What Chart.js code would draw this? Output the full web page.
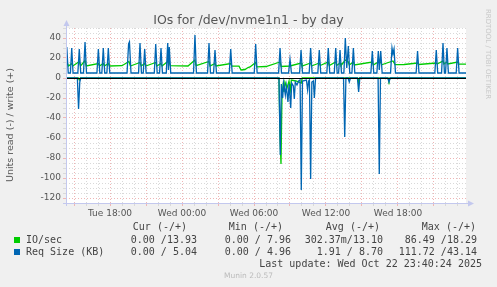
<!DOCTYPE html>
<html>
<head>
<meta charset="utf-8">
<title>IOs for /dev/nvme1n1 - by day</title>
<script src="https://cdn.jsdelivr.net/npm/chart.js@4.4.0/dist/chart.umd.min.js"></script>
<style>
    body { margin: 0; background: #f0f0f0; }
    #wrap { position: relative; width: 497px; height: 287px; overflow: hidden; font-family: "DejaVu Sans", sans-serif; color: #555; }
    canvas { position: absolute; left: 0; top: 0; }
    .t { position: absolute; white-space: pre; line-height: 12px; }
    .mono { font-family: "DejaVu Sans Mono", monospace; font-size: 10px; color: #444; }
</style>
</head>
<body>
<div id="wrap">
    <canvas id="chart" width="497" height="287"></canvas>

    <div class="t" style="left:0; width:497px; top:13px; text-align:center; font-size:12.5px; line-height:14px;">IOs for /dev/nvme1n1 - by day</div>
    <div class="t" style="left:-90px; width:200px; top:119px; text-align:center; font-size:9.5px; transform:rotate(-90deg);">Units read (-) / write (+)</div>
    <div class="t" style="left:438px; width:100px; top:48px; text-align:center; font-size:7px; color:#c8c8c8; transform:rotate(90deg);">RRDTOOL / TOBI OETIKER</div>

    <!-- legend table -->
    <div class="t mono" style="right:310px; top:221px;">Cur (-/+)</div>
    <div class="t mono" style="right:214px; top:221px;">Min (-/+)</div>
    <div class="t mono" style="right:117px; top:221px;">Avg (-/+)</div>
    <div class="t mono" style="right:21px; top:221px;">Max (-/+)</div>

    <div style="position:absolute; left:14px; top:237px; width:6px; height:6px; background:#00cc00;"></div>
    <div class="t mono" style="left:26px; top:234px;">IO/sec</div>
    <div class="t mono" style="right:300px; top:234px;">0.00 /13.93</div>
    <div class="t mono" style="right:206px; top:234px;">0.00 / 7.96</div>
    <div class="t mono" style="right:114px; top:234px;">302.37m/13.10</div>
    <div class="t mono" style="right:20px; top:234px;">86.49 /18.29</div>

    <div style="position:absolute; left:14px; top:249px; width:6px; height:6px; background:#0066b3;"></div>
    <div class="t mono" style="left:26px; top:246px;">Req Size (KB)</div>
    <div class="t mono" style="right:300px; top:246px;">0.00 / 5.04</div>
    <div class="t mono" style="right:206px; top:246px;">0.00 / 4.96</div>
    <div class="t mono" style="right:114px; top:246px;">1.91 / 8.70</div>
    <div class="t mono" style="right:20px; top:246px;">111.72 /43.14</div>

    <div class="t mono" style="right:15px; top:258px;">Last update: Wed Oct 22 23:40:24 2025</div>
    <div class="t" style="left:0; width:497px; top:271px; text-align:center; font-size:7.5px; line-height:10px; color:#bbb;">Munin 2.0.57</div>
</div>

<script>
// time is in hours counted from Tue 00:00
const startHour = 14.333;
const endHour = 47.667;
const xLabelHours = [18, 24, 30, 36, 42];
const xLabels = ['Tue 18:00', 'Wed 00:00', 'Wed 06:00', 'Wed 12:00', 'Wed 18:00'];
const yMin = -125;
const yMax = 50;
const yLabelValues = [-120, -100, -80, -60, -40, -20, 0, 20, 40];

// Req Size (KB), write side (+)
const reqWrite = [
    [14.33, 5], [14.40, 31], [14.52, 5], [14.70, 5], [14.81, 30], [14.92, 5],
    [15.32, 5], [15.44, 29], [15.56, 5], [15.79, 5], [15.92, 36], [16.04, 5],
    [16.91, 5], [17.03, 29], [17.15, 5], [17.32, 5], [17.44, 30], [17.56, 5],
    [17.74, 5], [17.86, 30], [17.98, 5], [19.42, 5], [19.55, 34], [19.62, 36], [19.75, 5],
    [20.38, 5], [20.50, 35], [20.62, 5], [20.77, 5], [20.89, 29], [21.01, 5],
    [21.69, 5], [21.81, 34], [21.93, 5], [22.13, 5], [22.25, 30], [22.37, 5],
    [22.69, 5], [22.81, 35], [22.87, 8], [22.94, 31], [23.06, 5],
    [24.96, 5], [25.08, 43], [25.20, 5], [26.13, 5], [26.25, 35], [26.37, 5],
    [26.63, 5], [26.75, 28], [26.87, 5], [27.94, 5], [28.06, 29], [28.18, 5],
    [30.02, 5], [30.14, 34], [30.26, 5], [32.05, 5], [32.17, 30], [32.29, 5],
    [32.88, 5], [33.00, 19], [33.12, 5], [33.80, 5], [33.92, 28], [34.04, 5],
    [34.60, 5], [34.72, 30], [34.84, 5], [35.32, 5], [35.44, 28], [35.56, 5],
    [36.07, 5], [36.19, 30], [36.31, 5], [36.69, 5], [36.81, 30], [36.93, 5],
    [37.05, 5], [37.17, 28], [37.29, 5], [37.49, 5], [37.61, 40], [37.73, 10], [37.86, 32], [37.98, 5],
    [38.16, 5], [38.28, 30], [38.40, 5], [39.74, 5], [39.86, 27], [39.98, 5],
    [40.24, 5], [40.36, 27], [40.44, 8], [40.56, 27], [40.68, 5],
    [41.38, 5], [41.50, 30], [41.58, 24], [41.67, 29], [41.79, 5],
    [43.51, 5], [43.63, 27], [43.75, 5], [45.07, 5], [45.19, 28], [45.31, 5],
    [45.63, 5], [45.75, 35], [45.87, 5], [45.96, 5], [46.08, 30], [46.20, 5],
    [46.85, 5], [46.97, 30], [47.09, 5], [47.67, 5]
];

// Req Size (KB), read side (-)
const reqRead = [
    [14.33, 0], [15.28, 0], [15.38, -31], [15.48, -4], [15.56, 0],
    [32.08, 0], [32.19, -77], [32.28, -6], [32.39, -20], [32.47, -5], [32.61, -17], [32.69, -8],
    [32.83, -24], [32.92, -6], [33.06, -30], [33.14, -5], [33.28, -8], [33.36, -21], [33.44, -4],
    [33.58, -7], [33.72, -3], [33.84, -2], [33.94, -112], [34.04, -3], [34.37, -2], [34.47, -12],
    [34.55, -3], [34.62, -2], [34.72, -101], [34.82, -4], [34.95, -3], [35.03, -20], [35.13, 0],
    [37.46, 0], [37.56, -59], [37.66, 0], [37.84, 0], [37.94, -4], [38.04, 0],
    [38.62, 0], [38.72, -14], [38.82, 0], [40.34, 0], [40.44, -96], [40.54, 0],
    [41.15, 0], [41.25, -4], [41.35, 0], [47.67, 0]
];

// IO/sec, write side (+)
const ioWrite = [
    [14.33, 12], [14.44, 15], [14.55, 12], [14.81, 14.5], [14.90, 12], [15.44, 16.5], [15.55, 12],
    [15.92, 17.5], [16.02, 12], [17.03, 14.5], [17.12, 12], [17.44, 14.5], [17.53, 12],
    [17.86, 14.5], [17.95, 12], [19.00, 12.3], [19.58, 16.5], [19.70, 12], [20.50, 15.5], [20.60, 12],
    [20.89, 14.5], [20.98, 12], [21.81, 15.5], [21.90, 12], [22.25, 14.5], [22.34, 12],
    [22.81, 16.5], [22.94, 15.5], [23.03, 12.3], [24.50, 12], [25.08, 18], [25.17, 12.3],
    [26.25, 16.5], [26.34, 12], [26.75, 14.5], [26.84, 12], [28.06, 14.5], [28.15, 12],
    [28.75, 11.8], [28.92, 8], [29.25, 8.5], [29.50, 10.5], [29.67, 11], [30.14, 15.5], [30.23, 11.2],
    [31.00, 11.5], [32.17, 16], [32.26, 11.5], [33.00, 12], [33.92, 15], [34.00, 12],
    [34.72, 15], [34.80, 12], [35.44, 15], [35.52, 12.5], [36.19, 16], [36.27, 12.5],
    [36.81, 16], [36.89, 12.5], [37.17, 15], [37.25, 12.5], [37.61, 18], [37.86, 16], [37.94, 13],
    [38.28, 16], [38.36, 13], [39.86, 16], [39.94, 13], [40.36, 16], [40.56, 16], [40.64, 13.2],
    [41.58, 17], [41.76, 13.3], [42.50, 13.5], [43.63, 15], [43.71, 13.5], [45.19, 15], [45.27, 14],
    [45.75, 17], [45.83, 14], [46.08, 16], [46.16, 14], [46.97, 16], [47.05, 14], [47.67, 13.9]
];

// IO/sec, read side (-)
const ioRead = [
    [14.33, 0], [15.36, 0], [15.44, -2], [15.52, 0], [32.08, 0], [32.17, -60], [32.25, -86],
    [32.33, -18], [32.42, -8], [32.50, -14], [32.58, -4], [32.75, -10], [32.92, -3],
    [33.03, -12], [33.11, -2], [33.50, -3], [33.94, -5], [34.02, 0],
    [38.64, 0], [38.72, -5], [38.80, 0], [41.17, 0], [41.25, -3], [41.33, 0], [47.67, 0]
];

const green = '#00cc00';
const blue = '#0066b3';
const minorGrid = '#d9d9d9';
const majorGrid = '#efb6b6';
const axisColor = '#c3c8ee';

function toPoints(pairs) {
    return pairs.map(p => ({ x: p[0], y: p[1] }));
}

function lineSet(label, pairs, color) {
    return {
        label: label,
        data: toPoints(pairs),
        borderColor: color,
        borderWidth: 1.3,
        pointRadius: 0,
        tension: 0,
        fill: false
    };
}

// white plot area, black zero line, and the rrdtool style axes with arrows
const muninLook = {
    id: 'muninLook',
    beforeDraw(chart) {
        const a = chart.chartArea;
        const ctx = chart.ctx;
        ctx.save();
        ctx.fillStyle = '#ffffff';
        ctx.fillRect(a.left, a.top, a.right - a.left, a.bottom - a.top);
        ctx.restore();
    },
    afterDatasetsDraw(chart) {
        const a = chart.chartArea;
        const ctx = chart.ctx;
        const y0 = Math.round(chart.scales.y.getPixelForValue(0)) + 0.5;
        ctx.save();
        ctx.strokeStyle = '#000000';
        ctx.lineWidth = 1;
        ctx.beginPath();
        ctx.moveTo(a.left, y0);
        ctx.lineTo(a.right, y0);
        ctx.stroke();
        ctx.restore();
    },
    afterDraw(chart) {
        const a = chart.chartArea;
        const ctx = chart.ctx;
        const x0 = a.left + 0.5;
        const yb = a.bottom + 0.5;
        ctx.save();
        ctx.strokeStyle = axisColor;
        ctx.fillStyle = axisColor;
        ctx.lineWidth = 1;
        ctx.beginPath();
        ctx.moveTo(x0, a.bottom + 3);
        ctx.lineTo(x0, a.top - 4);
        ctx.moveTo(a.left - 3, yb);
        ctx.lineTo(a.right + 3, yb);
        ctx.stroke();
        ctx.beginPath();
        ctx.moveTo(x0 - 3, a.top - 2);
        ctx.lineTo(x0 + 3, a.top - 2);
        ctx.lineTo(x0, a.top - 8);
        ctx.closePath();
        ctx.fill();
        ctx.beginPath();
        ctx.moveTo(a.right + 2, yb - 3);
        ctx.lineTo(a.right + 2, yb + 3);
        ctx.lineTo(a.right + 8, yb);
        ctx.closePath();
        ctx.fill();
        ctx.restore();
    }
};

const ctx = document.getElementById('chart').getContext('2d');

new Chart(ctx, {
    type: 'line',
    data: {
        datasets: [
            lineSet('Req Size (KB) write', reqWrite, blue),
            lineSet('Req Size (KB) read', reqRead, blue),
            lineSet('IO/sec write', ioWrite, green),
            lineSet('IO/sec read', ioRead, green)
        ]
    },
    options: {
        responsive: false,
        animation: false,
        devicePixelRatio: 1,
        layout: { padding: { top: 28, right: 31, bottom: 0, left: 0 } },
        plugins: {
            legend: { display: false },
            tooltip: { enabled: false },
            title: { display: false }
        },
        scales: {
            x: {
                type: 'linear',
                min: startHour,
                max: endHour,
                afterBuildTicks: scale => {
                    const ticks = [];
                    for (let h = 15; h <= 47; h++) ticks.push({ value: h });
                    scale.ticks = ticks;
                },
                afterFit: scale => { scale.height = 84; },
                ticks: {
                    autoSkip: false,
                    maxRotation: 0,
                    padding: 2,
                    color: '#555',
                    font: { family: 'DejaVu Sans', size: 9 },
                    callback: value => {
                        const i = xLabelHours.indexOf(value);
                        return i >= 0 ? xLabels[i] : '';
                    }
                },
                grid: {
                    color: c => (c.tick && c.tick.value % 3 === 0) ? majorGrid : minorGrid,
                    tickLength: 3,
                    lineWidth: 1
                },
                border: { display: false, dash: [1, 2] }
            },
            y: {
                type: 'linear',
                min: yMin,
                max: yMax,
                afterBuildTicks: scale => {
                    const ticks = [];
                    for (let v = yMin; v <= yMax; v += 5) ticks.push({ value: v });
                    scale.ticks = ticks;
                },
                afterFit: scale => { scale.width = 66; },
                ticks: {
                    autoSkip: false,
                    padding: 2,
                    color: '#555',
                    font: { family: 'DejaVu Sans', size: 9 },
                    callback: value => yLabelValues.includes(value) ? String(value) : ''
                },
                grid: {
                    color: c => (c.tick && c.tick.value % 20 === 0) ? majorGrid : minorGrid,
                    tickLength: 3,
                    lineWidth: 1
                },
                border: { display: false, dash: [1, 2] }
            }
        }
    },
    plugins: [muninLook]
});
</script>
</body>
</html>
